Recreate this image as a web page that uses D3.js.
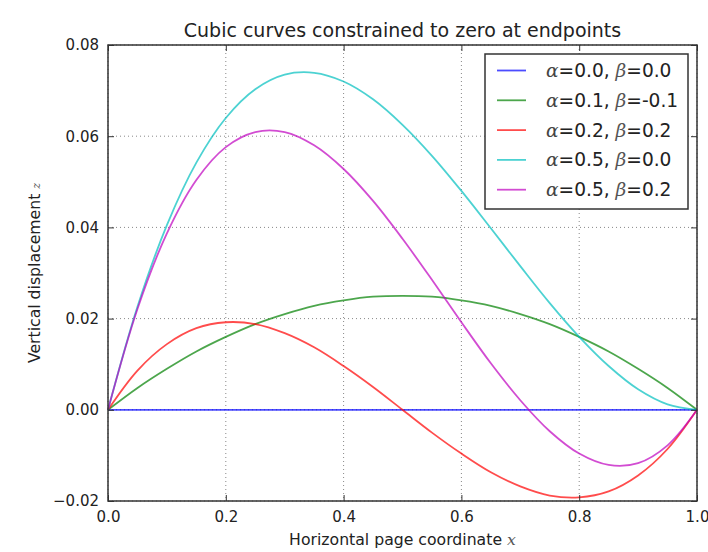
<!DOCTYPE html>
<html lang="en">
  <head>
    <meta charset="utf-8">
    <title>Cubic curves</title>
    <script src="https://d3js.org/d3.v7.min.js"></script>
    <style>
      html, body { margin: 0; padding: 0; background: #fff; overflow: hidden; }
      svg { display: block; }
      text { font-family: "DejaVu Sans", sans-serif; fill: #222; }
      .math { font-family: "DejaVu Serif", serif; font-style: italic; }
    </style>
  </head>
  <body>
  <script>

  // sample positions along the page
  var xs = [0, 0.05, 0.10, 0.15, 0.20, 0.25, 0.30, 0.35, 0.40, 0.45, 0.50,
            0.55, 0.60, 0.65, 0.70, 0.75, 0.80, 0.85, 0.90, 0.95, 1.0];

  // displacement
  var zA = [0, 0, 0, 0, 0, 0, 0, 0, 0, 0, 0, 0, 0, 0, 0, 0, 0, 0, 0, 0, 0];
  var zB = [0, 0.0048, 0.0090, 0.0128, 0.0160, 0.0188, 0.0210, 0.0228, 0.0240, 0.0248, 0.0250,
            0.0248, 0.0240, 0.0228, 0.0210, 0.0188, 0.0160, 0.0128, 0.0090, 0.0048, 0];
  var zC = [0, 0.0086, 0.0144, 0.0179, 0.0192, 0.0188, 0.0168, 0.0137, 0.0096, 0.0050, 0,
            -0.0050, -0.0096, -0.0137, -0.0168, -0.0188, -0.0192, -0.0179, -0.0144, -0.0086, 0];
  var zD = [0, 0.0226, 0.0405, 0.0542, 0.0640, 0.0703, 0.0735, 0.0739, 0.0720, 0.0681, 0.0625,
            0.0557, 0.0480, 0.0398, 0.0315, 0.0234, 0.0160, 0.0096, 0.0045, 0.0012, 0];
  var zE = [0, 0.0221, 0.0387, 0.0504, 0.0576, 0.0609, 0.0609, 0.0580, 0.0528, 0.0458, 0.0375,
            0.0285, 0.0192, 0.0102, 0.0021, -0.0047, -0.0096, -0.0121, -0.0117, -0.0078, 0];

  var alphas = ["0.0", "0.1", "0.2", "0.5", "0.5"];
  var betas = ["0.0", "-0.1", "0.2", "0.0", "0.2"];
  var colors = ["#0000ff", "#008000", "#ff0000", "#00bfbf", "#bf00bf"];

  var xTicks = [0, 0.2, 0.4, 0.6, 0.8, 1.0];
  var yTicks = [-0.02, 0, 0.02, 0.04, 0.06, 0.08];

  var w = 708, h = 552;
  var margin = {top: 45, right: 11, bottom: 51, left: 108};
  var innerWidth = w - margin.left - margin.right;
  var innerHeight = h - margin.top - margin.bottom;

  var svg = d3.select("body").append("svg")
    .attr("width", w)
    .attr("height", h);

  var g = svg.append("g")
    .attr("transform", `translate(${margin.left},${margin.top})`);

  var xScale = d3.scaleLinear().domain([0, 1]).range([0, innerWidth]);
  var yScale = d3.scaleLinear().domain([-0.02, 0.08]).range([innerHeight, 0]);

  // dotted grid
  g.selectAll(".gx").data(xTicks).enter().append("line")
    .attr("x1", d => xScale(d)).attr("x2", d => xScale(d))
    .attr("y1", 0).attr("y2", innerHeight)
    .style("stroke", "#888").style("stroke-width", 1).style("stroke-dasharray", "1,3");
  g.selectAll(".gy").data(yTicks).enter().append("line")
    .attr("y1", d => yScale(d)).attr("y2", d => yScale(d))
    .attr("x1", 0).attr("x2", innerWidth)
    .style("stroke", "#888").style("stroke-width", 1).style("stroke-dasharray", "1,3");

  // curves
  var series = [zA, zB, zC, zD, zE];
  var line = d3.line()
    .x((d, i) => xScale(xs[i]))
    .y(d => yScale(d))
    .curve(d3.curveCatmullRom.alpha(0.5));

  g.selectAll(".curve").data(series).enter().append("path")
    .attr("d", d => line(d))
    .style("fill", "none")
    .style("stroke", (d, i) => colors[i])
    .style("stroke-opacity", 0.7)
    .style("stroke-width", 1.8);

  // axes, ticks inward on all four sides
  var fmtX = d3.format(".1f"), fmtY = d3.format(".2f");
  function yFmt(d) { return fmtY(d).replace("-", "\u2212"); }

  var axB = g.append("g").attr("transform", `translate(0,${innerHeight})`)
    .call(d3.axisBottom(xScale).tickValues(xTicks).tickFormat(fmtX).tickSizeInner(-6).tickSizeOuter(0).tickPadding(10));
  var axT = g.append("g")
    .call(d3.axisTop(xScale).tickValues(xTicks).tickFormat("").tickSizeInner(-6).tickSizeOuter(0));
  var axL = g.append("g")
    .call(d3.axisLeft(yScale).tickValues(yTicks).tickFormat(yFmt).tickSizeInner(-6).tickSizeOuter(0).tickPadding(9));
  var axR = g.append("g").attr("transform", `translate(${innerWidth},0)`)
    .call(d3.axisRight(yScale).tickValues(yTicks).tickFormat("").tickSizeInner(-6).tickSizeOuter(0));

  // top and right carry no labels
  axT.selectAll("text").remove();
  axR.selectAll("text").remove();

  [axB, axT, axL, axR].forEach(function(a) {
    a.select(".domain").remove();
    a.selectAll("line").style("stroke", "#333").style("stroke-width", 1);
    a.selectAll("text").style("font-size", "15px").style("fill", "#222")
      .style("font-family", "DejaVu Sans, sans-serif");
  });

  g.append("rect")
    .attr("width", innerWidth).attr("height", innerHeight)
    .style("fill", "none").style("stroke", "#333").style("stroke-width", 1.5);

  // title and labels
  svg.append("text")
    .attr("x", margin.left + innerWidth / 2).attr("y", 37)
    .attr("text-anchor", "middle")
    .style("font-size", "19px")
    .text("Cubic curves constrained to zero at endpoints");

  var xl = svg.append("text")
    .attr("x", margin.left + innerWidth / 2).attr("y", 545)
    .attr("text-anchor", "middle")
    .style("font-size", "15.7px");
  xl.append("tspan").text("Horizontal page coordinate ");
  xl.append("tspan").attr("class", "math").style("fill", "#555").text("x");

  var yl = svg.append("text")
    .attr("transform", `translate(40,${margin.top + innerHeight / 2}) rotate(-90)`)
    .attr("text-anchor", "middle")
    .style("font-size", "15.7px");
  yl.append("tspan").text("Vertical displacement ");
  yl.append("tspan").attr("class", "math").style("fill", "#555").style("font-size", "11px").text("z");

  // legend
  var leg = svg.append("g").attr("transform", "translate(485,54)");
  leg.append("rect")
    .attr("width", 203).attr("height", 155)
    .style("fill", "#fff").style("stroke", "#333").style("stroke-width", 1.5);

  var rows = leg.selectAll(".row").data(alphas).enter().append("g")
    .attr("transform", (d, i) => `translate(0,${16.5 + i * 29.8})`);
  rows.append("line")
    .attr("x1", 12).attr("x2", 41).attr("y1", 0).attr("y2", 0)
    .style("stroke", (d, i) => colors[i]).style("stroke-opacity", 0.7).style("stroke-width", 1.8);
  var lt = rows.append("text")
    .attr("x", 61).attr("y", 6.5)
    .style("font-size", "18.6px");
  lt.append("tspan").attr("class", "math").style("fill", "#444").text("\u03b1");
  lt.append("tspan").text((d, i) => "=" + alphas[i] + ", ");
  lt.append("tspan").attr("class", "math").style("fill", "#555").text("\u03b2");
  lt.append("tspan").text((d, i) => "=" + betas[i]);

  </script>
  </body>
</html>
